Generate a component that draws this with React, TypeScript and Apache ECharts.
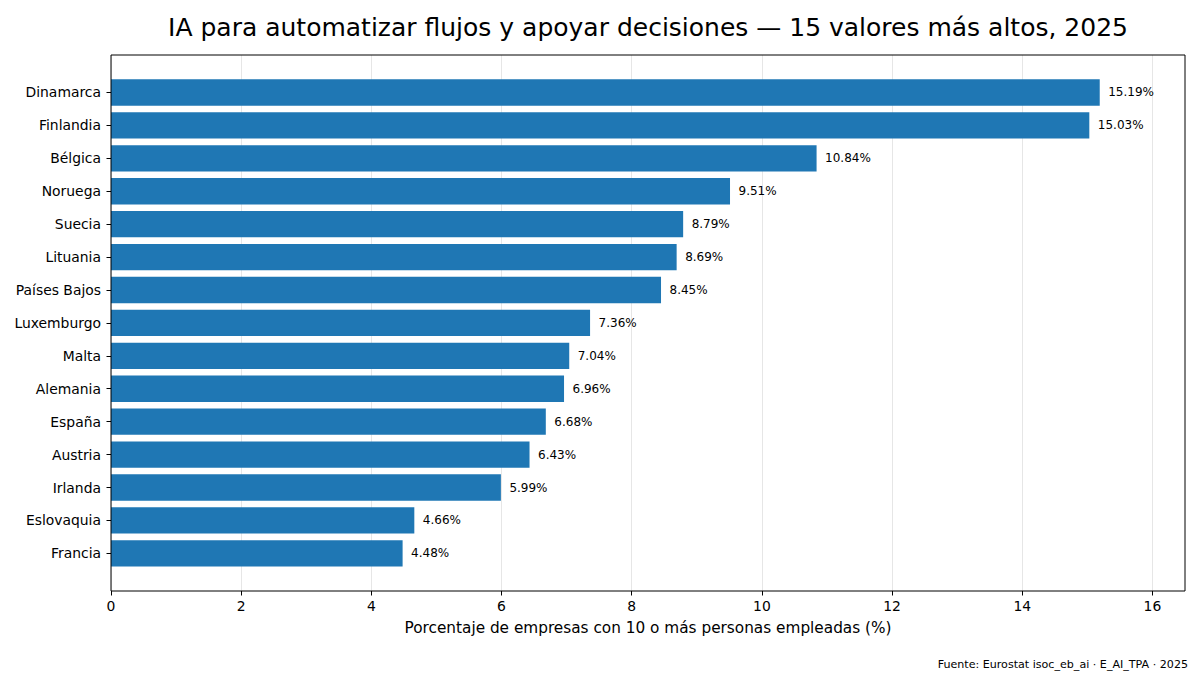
import React, { useEffect, useRef } from 'react';
import * as echarts from 'echarts';

const countries = [
  'Dinamarca', 'Finlandia', 'Bélgica', 'Noruega', 'Suecia', 'Lituania', 'Países Bajos',
  'Luxemburgo', 'Malta', 'Alemania', 'España', 'Austria', 'Irlanda', 'Eslovaquia', 'Francia',
];
const values = [15.19, 15.03, 10.84, 9.51, 8.79, 8.69, 8.45, 7.36, 7.04, 6.96, 6.68, 6.43, 5.99, 4.66, 4.48];
const xTicks = [0, 2, 4, 6, 8, 10, 12, 14, 16];

const title = 'IA para automatizar flujos y apoyar decisiones — 15 valores más altos, 2025';
const xLabel = 'Porcentaje de empresas con 10 o más personas empleadas (%)';
const source = 'Fuente: Eurostat isoc_eb_ai · E_AI_TPA · 2025';

const FONT = 'DejaVu Sans';

const App: React.FC = () => {
  const chartRef = useRef<HTMLDivElement>(null);

  useEffect(() => {
    if (!chartRef.current) return;
    const chart = echarts.init(chartRef.current, undefined, { renderer: 'svg' });

    const options: any = {
      animation: false,
      textStyle: { fontFamily: FONT },
      grid: [
        // frame + x axis
        { left: 111, right: 15, top: 55, bottom: 84, show: true, borderColor: '#000', borderWidth: 1, backgroundColor: 'transparent', z: 10 },
        // bars
        { left: 111, right: 15, top: 76, bottom: 105.2 },
      ],
      xAxis: [
        {
          gridIndex: 0,
          type: 'value',
          min: 0,
          max: 16.5,
          interval: 2,
          axisLine: { show: false },
          axisTick: { show: true, length: 4.5, customValues: xTicks, lineStyle: { color: '#000' } },
          axisLabel: { fontSize: 13.9, color: '#000', margin: 8, customValues: xTicks, fontFamily: FONT },
          splitLine: { show: true, lineStyle: { color: '#e6e6e6', width: 1 } },
          name: xLabel,
          nameLocation: 'middle',
          nameGap: 29,
          nameTextStyle: { fontSize: 15.3, color: '#000', fontFamily: FONT },
        },
        { gridIndex: 1, type: 'value', min: 0, max: 16.5, show: false },
      ],
      yAxis: [
        { gridIndex: 0, type: 'value', min: 0, max: 1, show: false },
        {
          gridIndex: 1,
          type: 'category',
          inverse: true,
          data: countries,
          axisLine: { show: false },
          axisTick: { show: true, alignWithLabel: true, length: 4.5, lineStyle: { color: '#000' } },
          axisLabel: { fontSize: 13.9, color: '#000', margin: 10, fontFamily: FONT },
          splitLine: { show: false },
        },
      ],
      series: [
        {
          type: 'bar',
          xAxisIndex: 1,
          yAxisIndex: 1,
          data: values,
          barWidth: '80%',
          itemStyle: { color: '#1f77b4' },
          label: {
            show: true,
            position: 'right',
            distance: 8.5,
            fontSize: 12,
            color: '#000',
            fontFamily: FONT,
            formatter: (p: any) => p.value.toFixed(2) + '%',
          },
        },
      ],
      graphic: [
        {
          type: 'text',
          x: 648,
          y: 27,
          style: { text: title, font: `25px "${FONT}"`, fill: '#000', align: 'center', verticalAlign: 'middle' },
        },
        {
          type: 'text',
          x: 1188,
          y: 664,
          style: { text: source, font: `11.1px "${FONT}"`, fill: '#000', align: 'right', verticalAlign: 'middle' },
        },
      ],
    };

    chart.setOption(options);
    return () => {
      chart.dispose();
    };
  }, []);

  return <div ref={chartRef} style={{ position: 'absolute', left: 0, top: 0, width: 1200, height: 675 }} />;
};

export default App;
